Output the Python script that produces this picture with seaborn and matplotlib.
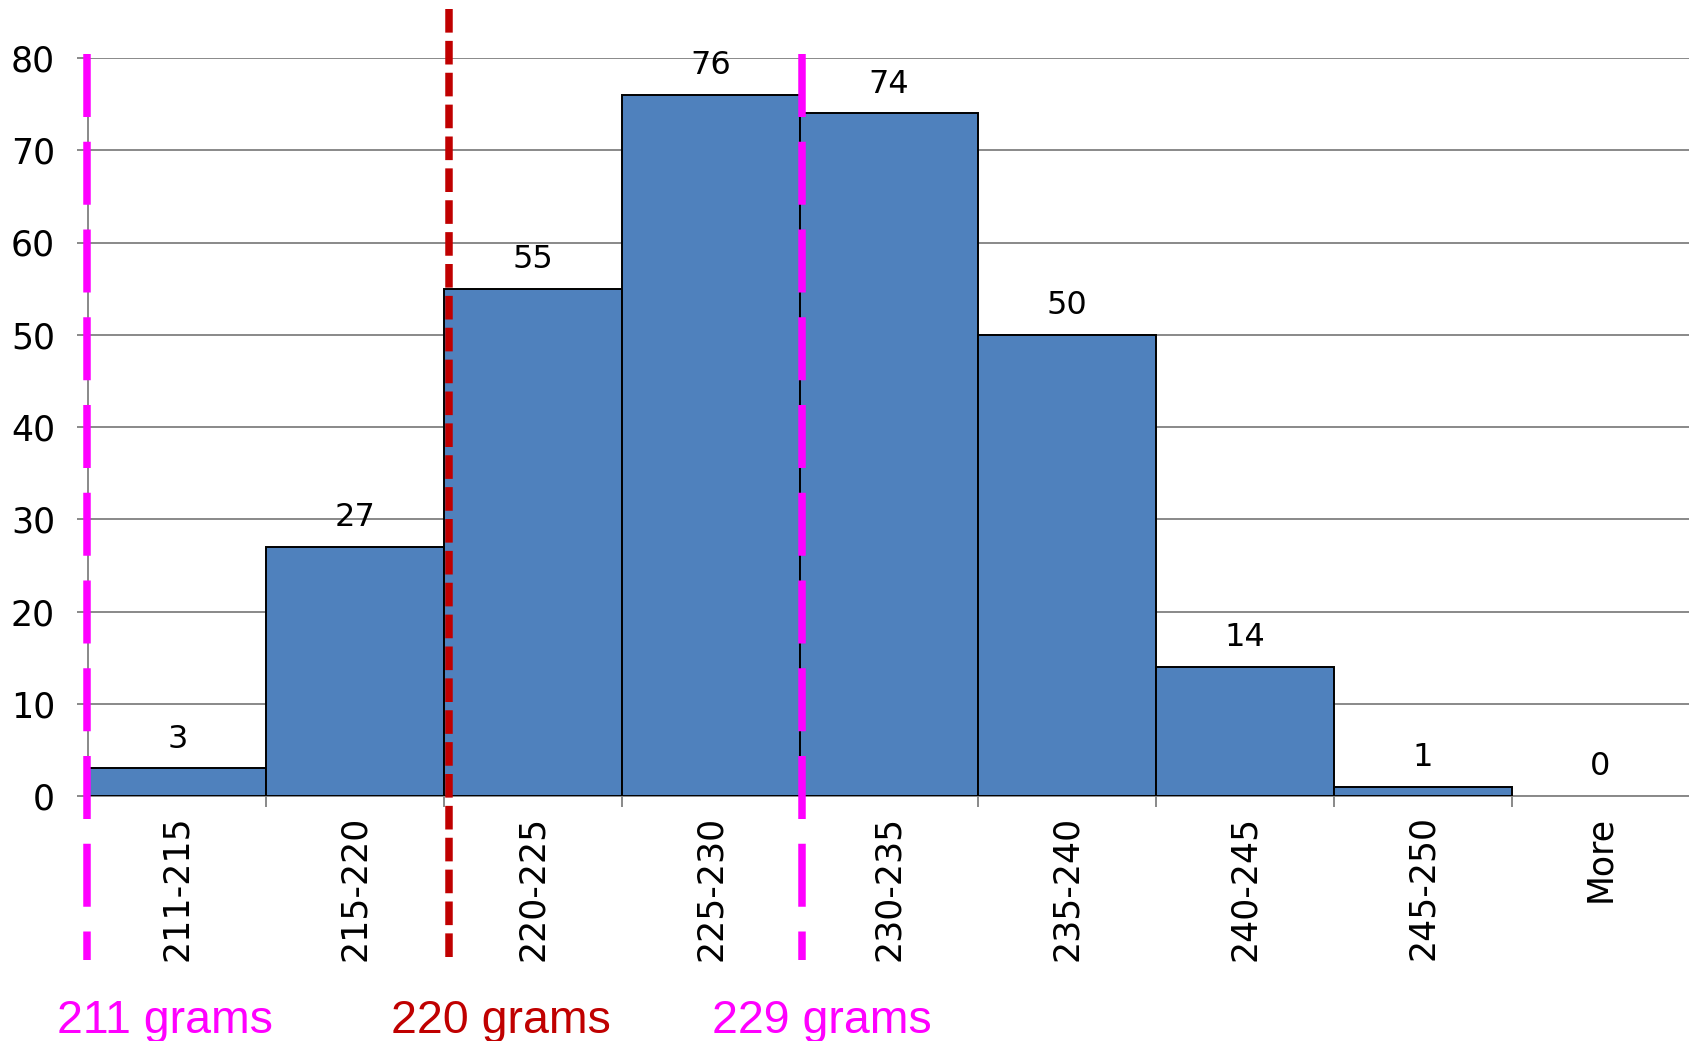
import matplotlib
matplotlib.use("Agg")
import matplotlib.pyplot as plt
import matplotlib.transforms as mtransforms
import seaborn as sns
import pandas as pd

# Histogram of weights (grams), frequency per bin
bins = ["211-215", "215-220", "220-225", "225-230", "230-235",
        "235-240", "240-245", "245-250", "More"]
counts = [3, 27, 55, 76, 74, 50, 14, 1, 0]

# Reference weights shown as vertical dashed markers (position on the category axis)
marker_labels = ["211 grams", "220 grams", "229 grams"]
marker_pos = [-0.51, 1.53, 3.51]
marker_colors = ["#FF00FF", "#C00000", "#FF00FF"]

sns.set_style("white")
plt.rcParams["font.family"] = ["DejaVu Sans"]

W, H = 1689, 1041
fig = plt.figure(figsize=(W / 100, H / 100), dpi=100)
left_px, right_px, top_px, bottom_px = 88.3, 1689.5, 58, 796
ax = fig.add_axes([left_px / W, 1 - bottom_px / H,
                   (right_px - left_px) / W, (bottom_px - top_px) / H])

df = pd.DataFrame({"bin": bins, "count": counts})
sns.barplot(data=df, x="bin", y="count", color="#4F81BD", saturation=1,
            width=1.0, edgecolor="black", linewidth=1.4, ax=ax, zorder=2)
for p in ax.patches:
    if p.get_height() == 0:
        p.set_linewidth(0)

ax.set_xlim(-0.5, len(bins) - 0.5)
ax.set_ylim(0, 80)
ax.set_xlabel("")
ax.set_ylabel("")

grid_col = "#898989"
ax.set_yticks(range(0, 81, 10))
ax.yaxis.grid(True, color=grid_col, linewidth=1.4, zorder=0)
ax.xaxis.grid(False)
ax.set_axisbelow(True)

for side in ["top", "right"]:
    ax.spines[side].set_visible(False)
for side in ["left", "bottom"]:
    ax.spines[side].set_color(grid_col)
    ax.spines[side].set_linewidth(1.4)
    ax.spines[side].set_zorder(1)

ax.tick_params(axis="y", direction="out", length=8, width=1.4, color=grid_col,
               pad=16, labelsize=25, labelcolor="black", left=True)
ax.tick_params(axis="x", which="major", length=0, pad=14, labelsize=25,
               labelcolor="black", labelrotation=90)
ax.set_xticks([i - 0.5 for i in range(len(bins))], minor=True)
ax.tick_params(axis="x", which="minor", direction="out", length=8, width=1.4,
               color=grid_col, bottom=True)
for lbl in ax.get_xticklabels():
    lbl.set_verticalalignment("top")

# Value labels above each bar
for i, v in enumerate(counts):
    ax.annotate(str(v), (i, v), xytext=(0, 21), textcoords="offset points",
                ha="center", va="center", fontsize=23, color="black")

# Dashed marker lines crossing the plot and tick-label area
trans = mtransforms.blended_transform_factory(ax.transData, fig.transFigure)
line_tops = [1 - 54 / H, 1 - 9 / H, 1 - 54 / H]
line_bottom = 1 - 960 / H
dash_styles = [(8.4, 3.3), (3.15, 1.1), (8.4, 3.3)]
line_widths = [5.4, 5.4, 5.4]
for x, c, t, d, lw in zip(marker_pos, marker_colors, line_tops, dash_styles, line_widths):
    ln, = ax.plot([x, x], [t, line_bottom], transform=trans, color=c, lw=lw,
                  clip_on=False, zorder=5, solid_capstyle="butt",
                  dash_capstyle="butt")
    ln.set_dashes(d)

# Captions for the marker lines
caption_x = [57, 391, 712]
for lab, c, xp in zip(marker_labels, marker_colors, caption_x):
    fig.text(xp / W, 1 - 1033 / H, lab, color=c, fontsize=33.5,
             family=["Liberation Sans", "DejaVu Sans"], ha="left", va="baseline")

fig.savefig("out.png", dpi=100)
